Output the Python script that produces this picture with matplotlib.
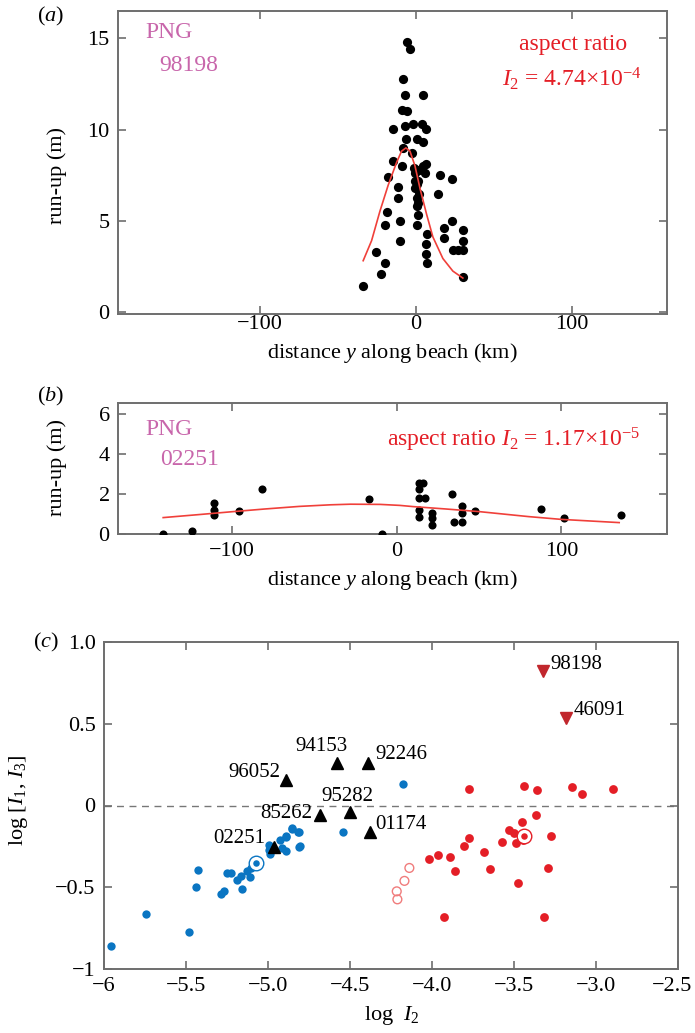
import matplotlib
matplotlib.use("Agg")
import matplotlib.pyplot as plt
from matplotlib.transforms import ScaledTranslation

plt.rcParams['font.family'] = ['Liberation Serif', 'DejaVu Serif']
plt.rcParams['mathtext.fontset'] = 'custom'
plt.rcParams['mathtext.rm'] = 'Liberation Serif'
plt.rcParams['mathtext.it'] = 'Liberation Serif:italic'
plt.rcParams['font.size'] = 16

# ---- panel (a): PNG 98198 run-up ----
a_x = [-5.8, -3.8, -8.3, -7.0, 4.5, -9.0, -5.8, -15.0, -7.0, -2.0, 4.0, 6.4,
       -6.4, 0.6, 4.5, -8.3, -2.6, -15.0, 6.4, -9.0, -0.6, 4.5, 5.8, -18.0,
       15.4, 23.0, -11.5, -0.6, -11.5, 0.6, 14.0, 0.6, 1.3, -18.6, -20.0,
       -10.0, 0.6, 23.0, 18.0, 30.0, 7.0, 18.0, 30.0, -10.0, 6.4, 24.0, 30.0,
       6.4, -25.6, 7.0, -20.0, -22.4, 30.0, -34.0, 1.3, 0.6, 1.9, 1.3, -0.6,
       2.0, -1.0, 27.0]
a_y = [14.8, 14.4, 12.8, 11.9, 11.9, 11.1, 11.0, 10.05, 10.2, 10.3, 10.3, 10.05,
       9.5, 9.5, 9.35, 9.0, 8.7, 8.3, 8.1, 8.0, 7.6, 8.0, 7.6, 7.4,
       7.5, 7.3, 6.85, 6.8, 6.25, 6.25, 6.5, 5.8, 5.35, 5.5, 4.8,
       5.0, 4.8, 4.97, 4.6, 4.5, 4.3, 4.06, 3.9, 3.9, 3.75, 3.4, 3.4,
       3.2, 3.3, 2.7, 2.7, 2.1, 1.9, 1.45, 7.2, 7.0, 6.5, 6.0, 7.2,
       7.8, 7.9, 3.4]
a_fit_x = [-33.8, -28.4, -23.1, -17.8, -12.4, -9.2, -6.4, -3.8, -0.6, 2.6,
           6.9, 10.9, 17.3, 23.7, 30.1]
a_fit_y = [2.82, 3.92, 5.52, 6.95, 8.2, 8.82, 9.0, 8.82, 8.02, 6.79,
           5.35, 4.12, 2.94, 2.25, 1.87]

# ---- panel (b): PNG 02251 run-up ----
b_x = [-142, -124.4, -110.7, -110.7, -110.7, -95.6, -81.4, -16.8, -8.7,
       13.5, 16.0, 13.5, 13.5, 17.0, 13.5, 13.5, 21.4, 21.4, 21.4,
       33.7, 34.5, 39.8, 39.8, 39.8, 47.3, 87.3, 101.8, 136.2]
b_y = [0.0, 0.15, 1.53, 1.2, 0.95, 1.15, 2.25, 1.73, 0.0,
       2.53, 2.53, 2.24, 1.78, 1.78, 1.2, 0.87, 1.07, 0.78, 0.45,
       2.0, 0.62, 1.4, 1.07, 0.62, 1.17, 1.23, 0.78, 0.95]
b_fit_x = [-141.6, -120, -99, -80, -59, -40, -28, -10, 2, 10, 30, 50, 80, 100, 135]
b_fit_y = [0.82, 0.97, 1.12, 1.25, 1.38, 1.46, 1.49, 1.48, 1.43, 1.37,
           1.25, 1.12, 0.87, 0.73, 0.57]

# ---- panel (c): log I2 vs log [I1, I3] ----
blue_x = [-5.959, -5.744, -5.483, -5.436, -5.424, -5.284, -5.270, -5.247, -5.223,
          -5.192, -5.156, -5.162, -5.131, -5.111, -5.101, -4.994, -4.986, -4.994,
          -4.929, -4.912, -4.888, -4.851, -4.888, -4.817, -4.811, -4.851, -4.811,
          -4.803, -4.888, -4.543, -4.178]
blue_y = [-0.859, -0.661, -0.774, -0.498, -0.392, -0.541, -0.525, -0.414, -0.414,
          -0.455, -0.510, -0.429, -0.398, -0.435, -0.382, -0.271, -0.296, -0.239,
          -0.214, -0.259, -0.194, -0.143, -0.280, -0.163, -0.251, -0.137, -0.163,
          -0.245, -0.184, -0.163, 0.129]
blue_hl = (-5.071, -0.351)

red_x = [-3.776, -3.438, -3.357, -3.144, -3.087, -2.896, -3.363, -3.452, -3.533,
         -3.499, -3.489, -3.448, -3.276, -3.576, -3.681, -3.776, -3.803, -3.890,
         -3.965, -4.016, -3.858, -3.645, -3.290, -3.478, -3.925, -3.316]
red_y = [0.102, 0.118, 0.092, 0.112, 0.071, 0.102, -0.057, -0.102, -0.149,
         -0.170, -0.231, -0.214, -0.184, -0.225, -0.286, -0.198, -0.247, -0.312,
         -0.302, -0.329, -0.398, -0.390, -0.382, -0.473, -0.680, -0.680]
red_hl = (-3.438, -0.184)

open_x = [-4.138, -4.168, -4.215, -4.211]
open_y = [-0.382, -0.461, -0.525, -0.574]

tri_names = ['96052', '94153', '92246', '85262', '95282', '01174', '02251']
tri_x = [-4.888, -4.578, -4.391, -4.685, -4.497, -4.381, -4.963]
tri_y = [0.153, 0.259, 0.259, -0.061, -0.041, -0.163, -0.251]
tri_off = [(-6, 8, 'right'), (-16, 17, 'center'), (7, 9, 'left'), (-7, 2, 'right'),
           (-3, 16, 'center'), (6, 8, 'left'), (-9, 8, 'right')]

inv_names = ['98198', '46091']
inv_x = [-3.326, -3.18]
inv_y = [0.82, 0.537]
inv_off = [(8, 7), (7, 7)]

W, H = 695, 1033
fig = plt.figure(figsize=(W / 100, H / 100), dpi=100)

spine_col = '#6e6e6e'
blue = '#0a75c2'
red = '#e41e26'
dark_red = '#c1272d'
pink = '#c866ab'
fit_red = '#f0403a'


def style(ax, pad=6):
    for s in ax.spines.values():
        s.set_color(spine_col)
        s.set_linewidth(1.4)
    ax.tick_params(direction='in', top=True, right=True, length=6, width=1.2,
                   color=spine_col, labelsize=16, pad=pad)


def rect(l, t, r, b):
    return [l / W, 1 - b / H, (r - l) / W, (b - t) / H]


# (a)
ax1 = fig.add_axes(rect(118, 11, 667, 314))
ax1.scatter(a_x, a_y, s=44, color='black', zorder=3, linewidths=0)
ax1.plot(a_fit_x, a_fit_y, color=fit_red, lw=1.2, zorder=4)
ax1.set_xlim(-191, 161)
ax1.set_ylim(-0.1, 16.5)
ax1.set_xticks([-100, 0, 100])
ax1.set_yticks([0, 5, 10, 15])
style(ax1)
ax1.tick_params(axis='x', pad=1)
ax1.text(0.049, 0.929, 'PNG', color=pink, fontsize=17, transform=ax1.transAxes, va='center')
ax1.text(0.075, 0.819, '98198', color=pink, fontsize=17, transform=ax1.transAxes, va='center')
ax1.text(0.829, 0.890, 'aspect ratio', color=red, fontsize=17, transform=ax1.transAxes,
         ha='center', va='center')
ax1.text(0.827, 0.777, r'$I_2$ = 4.74$\times$10$^{-4}$', color=red, fontsize=17,
         transform=ax1.transAxes, ha='center', va='center')

# (b)
ax2 = fig.add_axes(rect(118, 403, 667, 534))
ax2.scatter(b_x, b_y, s=34, color='black', zorder=3, linewidths=0)
ax2.plot(b_fit_x, b_fit_y, color=fit_red, lw=1.2, zorder=4)
ax2.set_xlim(-169, 164)
ax2.set_ylim(0, 6.55)
ax2.set_xticks([-100, 0, 100])
ax2.set_yticks([0, 2, 4, 6])
style(ax2)
ax2.text(0.049, 0.794, 'PNG', color=pink, fontsize=17, transform=ax2.transAxes, va='center')
ax2.text(0.0765, 0.565, '02251', color=pink, fontsize=17, transform=ax2.transAxes, va='center')
ax2.text(0.49, 0.718, r'aspect ratio $I_2$ = 1.17$\times$10$^{-5}$', color=red, fontsize=17,
         transform=ax2.transAxes, va='center')

# (c)
ax3 = fig.add_axes(rect(104, 642, 678, 969))
ax3.axhline(0, color='#777777', lw=1.0, ls=(0, (5, 4)), zorder=1)
ax3.scatter(blue_x, blue_y, s=36, color=blue, linewidths=0, zorder=3)
ax3.scatter(red_x, red_y, s=40, color=red, linewidths=0, zorder=3)
ax3.scatter(open_x, open_y, s=40, facecolor='none', edgecolor='#f07c7c', linewidths=1.0, zorder=3)
ax3.scatter([blue_hl[0]], [blue_hl[1]], s=110, facecolor='white', edgecolor=blue, linewidths=1.0, zorder=4)
ax3.scatter([blue_hl[0]], [blue_hl[1]], s=22, color=blue, linewidths=0, zorder=5)
ax3.scatter([red_hl[0]], [red_hl[1]], s=110, facecolor='white', edgecolor=red, linewidths=1.0, zorder=4)
ax3.scatter([red_hl[0]], [red_hl[1]], s=22, color=red, linewidths=0, zorder=5)
ax3.plot(tri_x, tri_y, ls='none', marker='^', ms=8, color='black', zorder=6)
ax3.plot(inv_x, inv_y, ls='none', marker='v', ms=8, color=dark_red, zorder=6)
for name, x, y, (dx, dy, ha) in zip(tri_names, tri_x, tri_y, tri_off):
    ax3.annotate(name, (x, y), xytext=(dx, dy), textcoords='offset pixels',
                 ha=ha, va='center', fontsize=15)
for name, x, y, (dx, dy) in zip(inv_names, inv_x, inv_y, inv_off):
    ax3.annotate(name, (x, y), xytext=(dx, dy), textcoords='offset pixels',
                 ha='left', va='center', fontsize=15)
ax3.set_xlim(-6, -2.5)
ax3.set_ylim(-1, 1)
ax3.set_xticks([-6, -5.5, -5.0, -4.5, -4.0, -3.5, -3.0, -2.5])
ax3.set_xticklabels(['\u22126', '\u22125.5', '\u22125.0', '\u22124.5', '\u22124.0',
                     '\u22123.5', '\u22123.0', '\u22122.5'])
ax3.set_yticks([-1, -0.5, 0, 0.5, 1.0])
ax3.set_yticklabels(['\u22121', '\u22120.5', '0', '0.5', '1.0'])
style(ax3)
last = ax3.get_xticklabels()[-1]
last.set_transform(last.get_transform() + ScaledTranslation(-0.06, 0, fig.dpi_scale_trans))

# axis labels and panel letters
fig.text(0.564, 1 - 353 / H, r'distance $y$ along beach (km)', ha='center', va='center', fontsize=16)
fig.text(0.082, 0.830, 'run-up (m)', rotation=90, ha='center', va='center', fontsize=16)
fig.text(0.564, 0.4385, r'distance $y$ along beach (km)', ha='center', va='center', fontsize=16)
fig.text(0.082, 0.547, 'run-up (m)', rotation=90, ha='center', va='center', fontsize=16)
fig.text(0.564, 0.0174, r'log  $I_2$', ha='center', va='center', fontsize=16)
fig.text(0.026, 0.2255, r'log [$I_1$, $I_3$]', rotation=90, ha='center', va='center', fontsize=16)
fig.text(0.073, 0.9845, r'($a$)', ha='center', va='center', fontsize=16)
fig.text(0.072, 0.6157, r'($b$)', ha='center', va='center', fontsize=16)
fig.text(0.066, 0.3785, r'($c$)', ha='center', va='center', fontsize=16)

fig.savefig('out.png', dpi=100)
